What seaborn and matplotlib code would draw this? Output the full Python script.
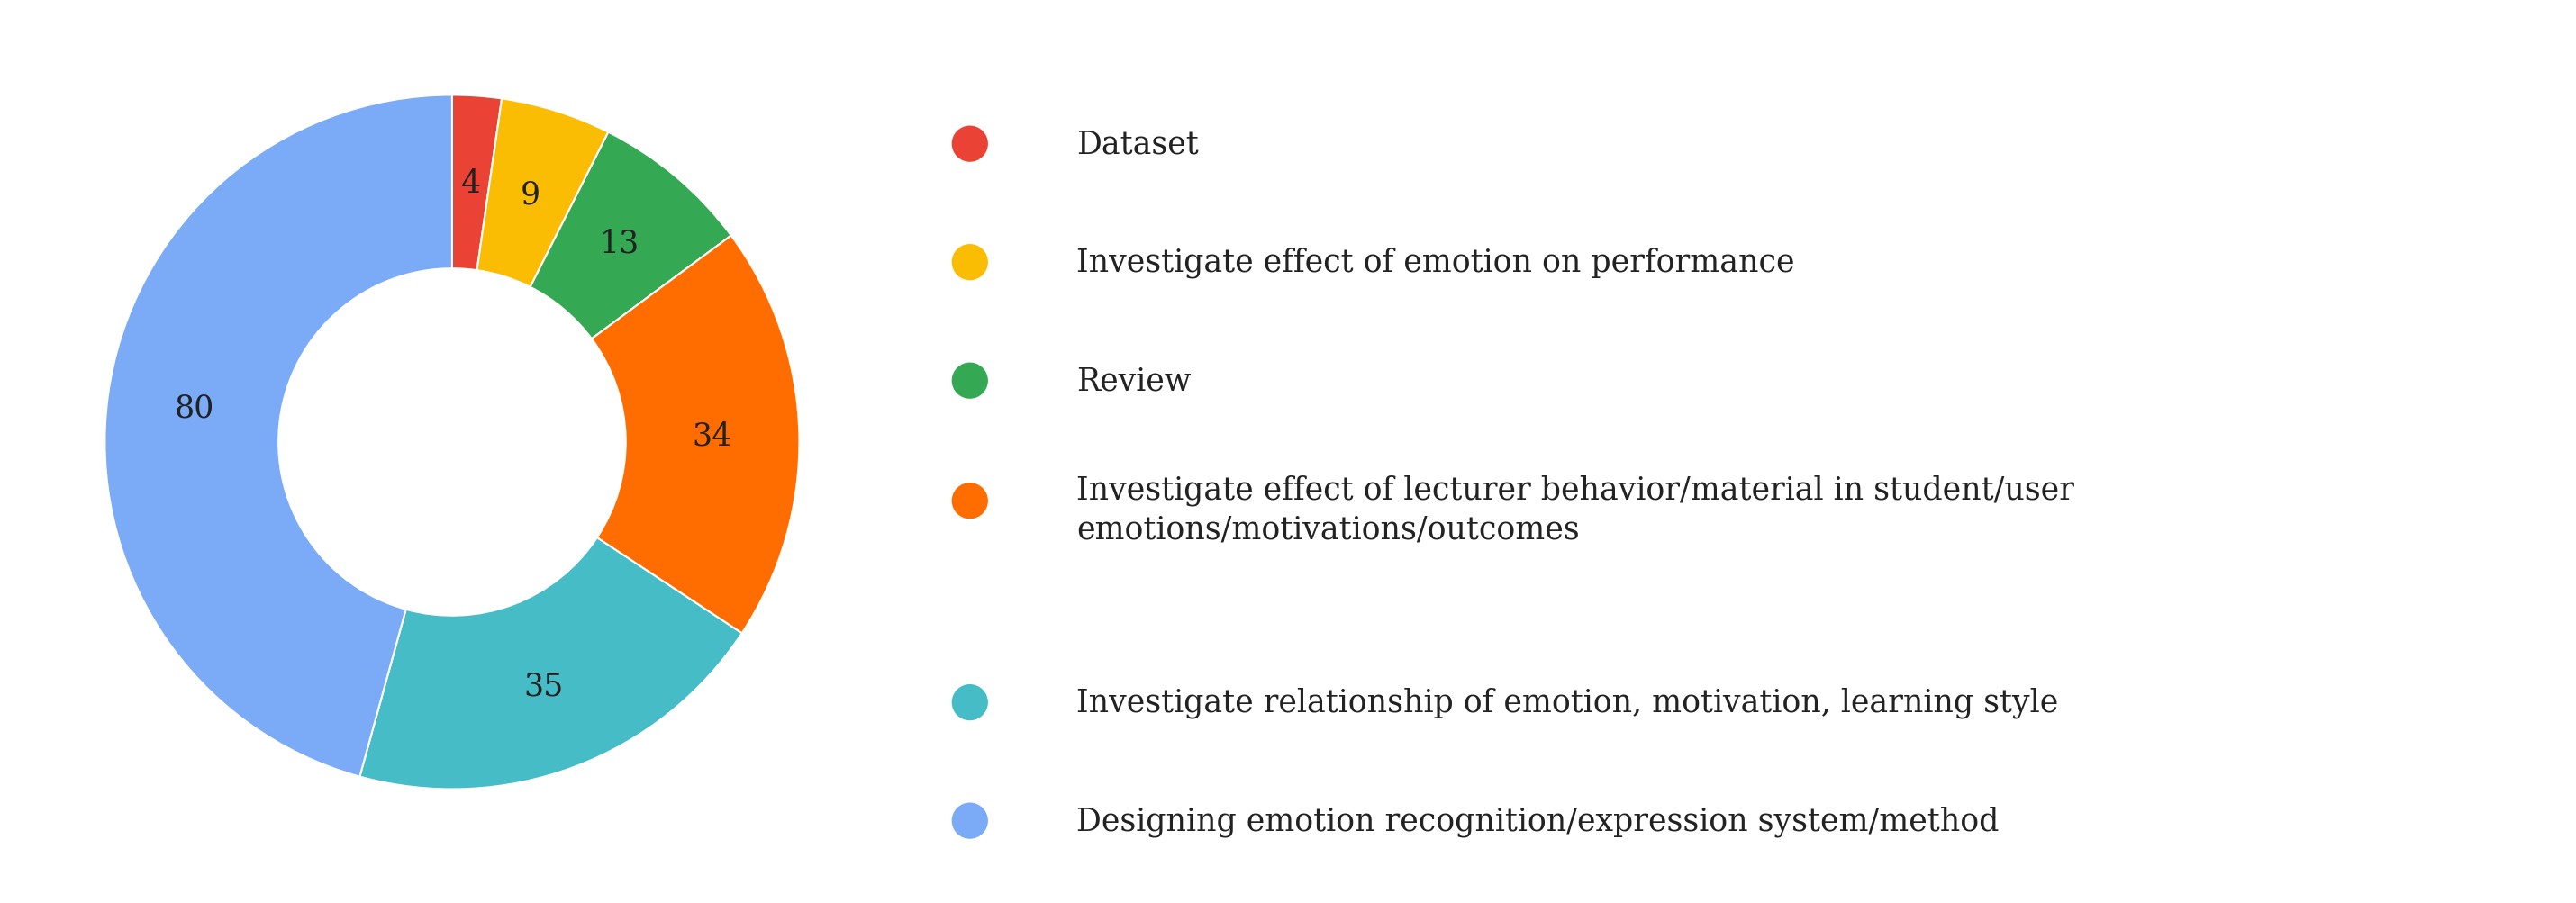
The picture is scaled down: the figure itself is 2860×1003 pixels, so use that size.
import matplotlib.pyplot as plt
import seaborn as sns

# Data
categories = [
    "Dataset",
    "Investigate effect of emotion on performance",
    "Review",
    "Investigate effect of lecturer behavior/material in student/user\nemotions/motivations/outcomes",
    "Investigate relationship of emotion, motivation, learning style",
    "Designing emotion recognition/expression system/method",
]
counts = [4, 9, 13, 34, 35, 80]
colors = ["#EA4335", "#FBBC04", "#34A853", "#FF6D01", "#46BDC6", "#7BAAF7"]

sns.set_theme(style="white")
plt.rcParams["font.family"] = ["DejaVu Serif"]

fig = plt.figure(figsize=(28.6, 10.04), dpi=100)

# Donut
ax = fig.add_axes([0.007, 0.03, 0.337, 0.96])
wedges, texts = ax.pie(counts, colors=colors, startangle=90, counterclock=False,
                       labels=[str(c) for c in counts], labeldistance=0.75,
                       wedgeprops=dict(width=0.5, edgecolor="white", linewidth=1.5),
                       textprops=dict(fontsize=25, color="#222222", ha="center", va="center"))
ax.set_aspect("equal")

# Legend
lax = fig.add_axes([0, 0, 1, 1])
lax.set_xlim(0, 1)
lax.set_ylim(0, 1)
lax.axis("off")
ys = [0.84, 0.709, 0.578, 0.445, 0.222, 0.091]
lax.scatter([0.3765] * len(ys), ys, s=840, c=colors, linewidths=0)
for y, label in zip(ys, categories):
    multi = "\n" in label
    lax.text(0.418, y + 0.03 if multi else y, label, fontsize=25, color="#222222",
             va="top" if multi else "center", linespacing=1.35)

fig.savefig("out.png", dpi=100, facecolor="white")
